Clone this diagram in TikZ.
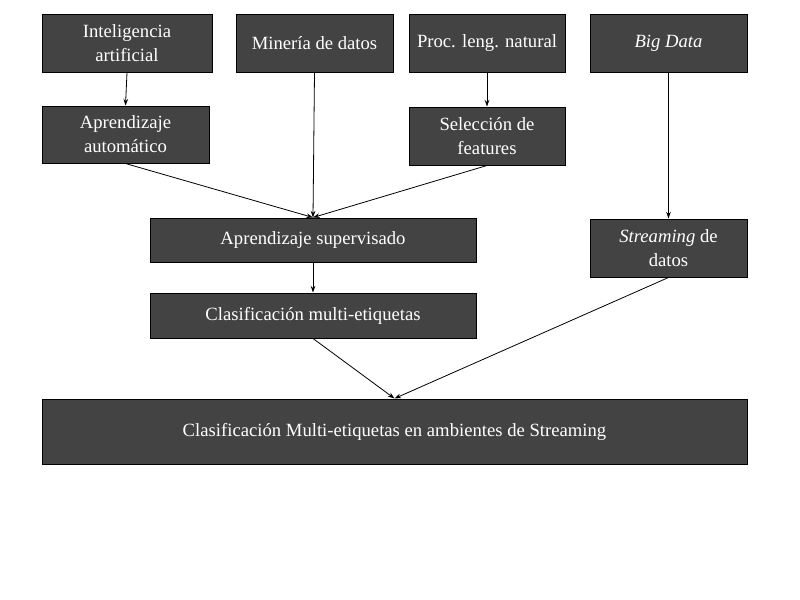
\documentclass[tikz,border=0pt]{standalone}
\usepackage{fontspec}
\setmainfont{Liberation Serif}
\usetikzlibrary{arrows.meta}
\definecolor{boxfill}{HTML}{434343}
\begin{document}
\begin{tikzpicture}[x=0.75pt,y=-0.75pt,
  box/.style={draw=black,line width=0.75pt,fill=boxfill,text=white,align=center,inner sep=0pt,
    font=\fontsize{14}{18}\selectfont},
  conn/.style={draw=black,line width=0.6pt,-{Stealth[length=5pt,width=3.5pt]}}]
\useasboundingbox (0,0) rectangle (800,600);
\node[box,minimum width=127.5pt,minimum height=43.5pt] (ia) at (127,43) {Inteligencia\\artificial};
\node[box,minimum width=117.75pt,minimum height=43.5pt] (md) at (314.5,43) {Minería de datos};
\node[box,minimum width=117pt,minimum height=43.5pt] (pln) at (487,43) {Proc. leng. natural};
\node[box,minimum width=117.75pt,minimum height=43.5pt] (bd) at (668.5,43) {\textit{Big Data}};
\node[box,minimum width=125.25pt,minimum height=42.75pt] (aa) at (125.5,134.5) {Aprendizaje\\automático};
\node[box,minimum width=117pt,minimum height=43.5pt] (sf) at (487,136) {Selección de\\features};
\node[box,minimum width=244.5pt,minimum height=33pt] (as) at (313,240) {Aprendizaje supervisado};
\node[box,minimum width=117.75pt,minimum height=43.5pt] (sd) at (668.5,248) {\textit{Streaming} de\\datos};
\node[box,minimum width=244.5pt,minimum height=33.75pt] (cm) at (313,315.5) {Clasificación multi-etiquetas};
\node[box,minimum width=528.75pt,minimum height=48.75pt] (cs) at (394.5,431.5) {Clasificación Multi-etiquetas en ambientes de Streaming};
\draw[conn] (ia.south) -- (aa.north);
\draw[conn] (pln.south) -- (sf.north);
\draw[conn] (bd.south) -- (sd.north);
\draw[conn] (md.south) -- (as.north);
\draw[conn] (aa.south) -- (as.north);
\draw[conn] (sf.south) -- (as.north);
\draw[conn] (as.south) -- (cm.north);
\draw[conn] (cm.south) -- (cs.north);
\draw[conn] (sd.south) -- (cs.north);
\end{tikzpicture}
\end{document}
